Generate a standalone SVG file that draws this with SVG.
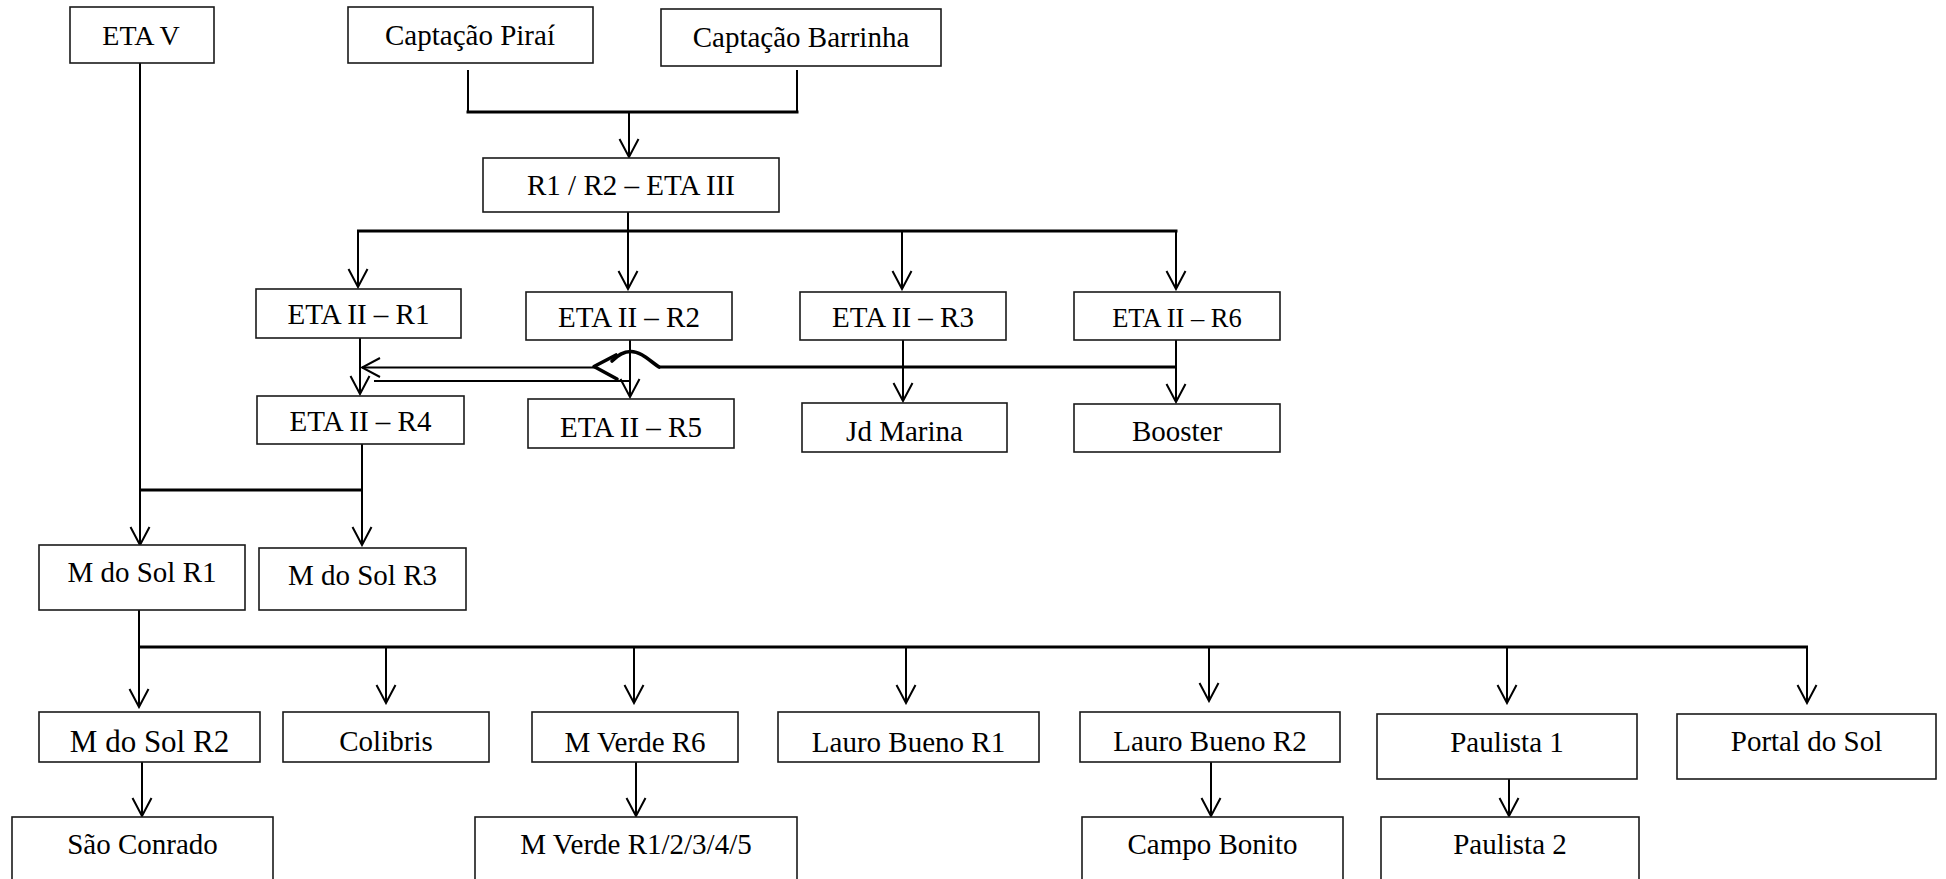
<svg xmlns="http://www.w3.org/2000/svg" width="1946" height="879" viewBox="0 0 1946 879">
<style>
.box{fill:#fff;stroke:#1a1a1a;stroke-width:1.6}
.t{font-family:"Liberation Serif","Times New Roman",serif;font-size:29px;fill:#000;text-anchor:middle}
.ln{fill:none;stroke:#000;stroke-width:2}
.bus{fill:none;stroke:#000;stroke-width:3}
.thick{fill:none;stroke:#000;stroke-width:3.6;stroke-linejoin:round;stroke-linecap:round}
</style>
<defs>
<marker id="arr" markerUnits="userSpaceOnUse" viewBox="-20 -11 22 22" refX="0" refY="0" markerWidth="22" markerHeight="22" orient="auto">
<path d="M-18,-9.5 L0,0 L-18,9.5" fill="none" stroke="#000" stroke-width="2"/>
</marker>
</defs>
<rect width="1946" height="879" fill="#fff"/>
<g id="connectors">
<line class="ln" x1="140" y1="63" x2="140" y2="545" marker-end="url(#arr)"/>
<line class="ln" x1="468" y1="70" x2="468" y2="112"/>
<line class="ln" x1="797" y1="70" x2="797" y2="112"/>
<line class="bus" x1="466.5" y1="112" x2="798.5" y2="112"/>
<line class="ln" x1="629" y1="112" x2="629" y2="157" marker-end="url(#arr)"/>
<line class="ln" x1="628" y1="212" x2="628" y2="231"/>
<line class="bus" x1="357" y1="231" x2="1177.5" y2="231"/>
<line class="ln" x1="358" y1="231" x2="358" y2="287" marker-end="url(#arr)"/>
<line class="ln" x1="628" y1="231" x2="628" y2="289" marker-end="url(#arr)"/>
<line class="ln" x1="902" y1="231" x2="902" y2="289" marker-end="url(#arr)"/>
<line class="ln" x1="1176" y1="231" x2="1176" y2="289" marker-end="url(#arr)"/>
<line class="ln" x1="360" y1="338" x2="360" y2="394" marker-end="url(#arr)"/>
<line class="ln" x1="630" y1="340" x2="630" y2="397" marker-end="url(#arr)"/>
<line class="ln" x1="903" y1="340" x2="903" y2="401" marker-end="url(#arr)"/>
<line class="ln" x1="1176" y1="340" x2="1176" y2="402" marker-end="url(#arr)"/>
<path class="bus" d="M1176,367 L659,367"/>
<path class="thick" d="M659,367 C650,361 641,351.5 631,351.5 C623,351.5 618,355 612,361"/>
<path class="thick" d="M616,355 L594,366.5 L617,379"/>
<line class="ln" x1="595" y1="367.5" x2="362" y2="367.5" marker-end="url(#arr)"/>
<line class="ln" x1="630" y1="381" x2="374" y2="381"/>
<line class="ln" x1="362" y1="444" x2="362" y2="545" marker-end="url(#arr)"/>
<line class="bus" x1="140" y1="490" x2="362" y2="490"/>
<line class="ln" x1="139" y1="610" x2="139" y2="707" marker-end="url(#arr)"/>
<line class="bus" x1="138" y1="647" x2="1808" y2="647"/>
<line class="ln" x1="386" y1="647" x2="386" y2="703" marker-end="url(#arr)"/>
<line class="ln" x1="634" y1="647" x2="634" y2="703" marker-end="url(#arr)"/>
<line class="ln" x1="906" y1="647" x2="906" y2="703" marker-end="url(#arr)"/>
<line class="ln" x1="1209" y1="647" x2="1209" y2="701" marker-end="url(#arr)"/>
<line class="ln" x1="1507" y1="647" x2="1507" y2="703" marker-end="url(#arr)"/>
<line class="ln" x1="1807" y1="647" x2="1807" y2="703" marker-end="url(#arr)"/>
<line class="ln" x1="142" y1="762" x2="142" y2="816" marker-end="url(#arr)"/>
<line class="ln" x1="636" y1="762" x2="636" y2="816" marker-end="url(#arr)"/>
<line class="ln" x1="1211" y1="762" x2="1211" y2="816" marker-end="url(#arr)"/>
<line class="ln" x1="1509" y1="779" x2="1509" y2="816" marker-end="url(#arr)"/>
</g>
<g id="eta_v"><rect class="box" x="70" y="7" width="144" height="56"/><text class="t" x="141" y="45" style="font-size:28px">ETA V</text></g>
<g id="captacao_pirai"><rect class="box" x="348" y="7" width="245" height="56"/><text class="t" x="470" y="45">Captação Piraí</text></g>
<g id="captacao_barrinha"><rect class="box" x="661" y="9" width="280" height="57"/><text class="t" x="801" y="47">Captação Barrinha</text></g>
<g id="r1_r2_eta3"><rect class="box" x="483" y="158" width="296" height="54"/><text class="t" x="631" y="195">R1 / R2 – ETA III</text></g>
<g id="eta2_r1"><rect class="box" x="256" y="289" width="205" height="49"/><text class="t" x="358.5" y="324">ETA II – R1</text></g>
<g id="eta2_r2"><rect class="box" x="526" y="292" width="206" height="48"/><text class="t" x="629" y="327">ETA II – R2</text></g>
<g id="eta2_r3"><rect class="box" x="800" y="292" width="206" height="48"/><text class="t" x="903" y="327">ETA II – R3</text></g>
<g id="eta2_r6"><rect class="box" x="1074" y="292" width="206" height="48"/><text class="t" x="1177" y="326.5" style="font-size:26.5px">ETA II – R6</text></g>
<g id="eta2_r4"><rect class="box" x="257" y="396" width="207" height="48"/><text class="t" x="360.5" y="431">ETA II – R4</text></g>
<g id="eta2_r5"><rect class="box" x="528" y="399" width="206" height="49"/><text class="t" x="631" y="436.5">ETA II – R5</text></g>
<g id="jd_marina"><rect class="box" x="802" y="403" width="205" height="49"/><text class="t" x="904.5" y="440.5">Jd Marina</text></g>
<g id="booster"><rect class="box" x="1074" y="404" width="206" height="48"/><text class="t" x="1177" y="441">Booster</text></g>
<g id="m_do_sol_r1"><rect class="box" x="39" y="545" width="206" height="65"/><text class="t" x="142" y="582">M do Sol R1</text></g>
<g id="m_do_sol_r3"><rect class="box" x="259" y="548" width="207" height="62"/><text class="t" x="362.5" y="585">M do Sol R3</text></g>
<g id="m_do_sol_r2"><rect class="box" x="39" y="712" width="221" height="50"/><text class="t" x="149.5" y="752" style="font-size:31px">M do Sol R2</text></g>
<g id="colibris"><rect class="box" x="283" y="712" width="206" height="50"/><text class="t" x="386" y="751">Colibris</text></g>
<g id="m_verde_r6"><rect class="box" x="532" y="712" width="206" height="50"/><text class="t" x="635" y="752">M Verde R6</text></g>
<g id="lauro_bueno_r1"><rect class="box" x="778" y="712" width="261" height="50"/><text class="t" x="908.5" y="752">Lauro Bueno R1</text></g>
<g id="lauro_bueno_r2"><rect class="box" x="1080" y="712" width="260" height="50"/><text class="t" x="1210" y="751">Lauro Bueno R2</text></g>
<g id="paulista_1"><rect class="box" x="1377" y="714" width="260" height="65"/><text class="t" x="1507" y="751.5">Paulista 1</text></g>
<g id="portal_do_sol"><rect class="box" x="1677" y="714" width="259" height="65"/><text class="t" x="1806.5" y="751">Portal do Sol</text></g>
<g id="sao_conrado"><rect class="box" x="12" y="817" width="261" height="80"/><text class="t" x="142.5" y="854">São Conrado</text></g>
<g id="m_verde_r12345"><rect class="box" x="475" y="817" width="322" height="80"/><text class="t" x="636" y="854">M Verde R1/2/3/4/5</text></g>
<g id="campo_bonito"><rect class="box" x="1082" y="817" width="261" height="80"/><text class="t" x="1212.5" y="854">Campo Bonito</text></g>
<g id="paulista_2"><rect class="box" x="1381" y="817" width="258" height="80"/><text class="t" x="1510" y="854">Paulista 2</text></g>
</svg>
